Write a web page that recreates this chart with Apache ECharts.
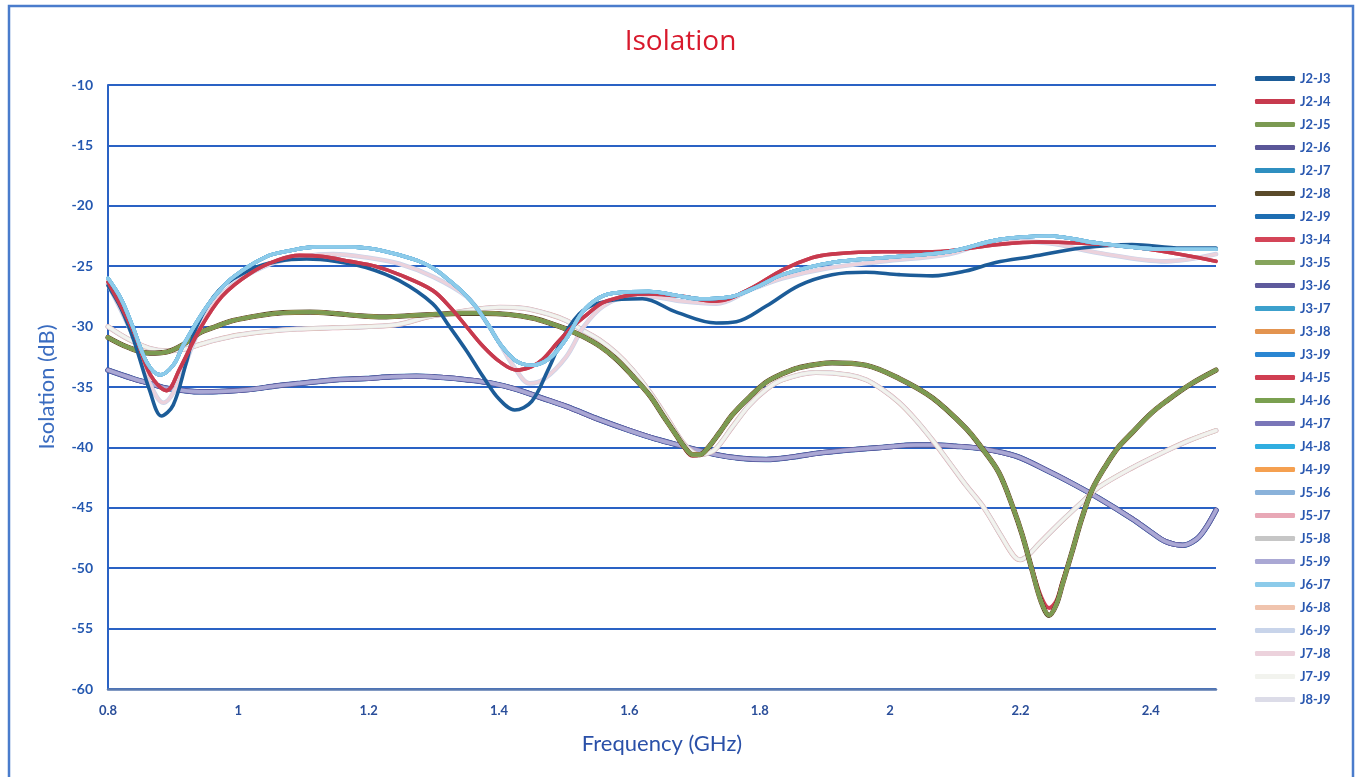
<!DOCTYPE html>
<html>
<head>
<meta charset="utf-8">
<script src="https://cdn.jsdelivr.net/npm/echarts@6/dist/echarts.min.js"></script>
<style>
html,body{margin:0;padding:0;background:#fff;}
#chart{width:1361px;height:777px;}
</style>
</head>
<body>
<div id="chart"></div>
<script>
// ---------- DATA ----------
const legendNames = ['J2-J3','J2-J4','J2-J5','J2-J6','J2-J7','J2-J8','J2-J9','J3-J4','J3-J5','J3-J6','J3-J7','J3-J8','J3-J9','J4-J5','J4-J6','J4-J7','J4-J8','J4-J9','J5-J6','J5-J7','J5-J8','J5-J9','J6-J7','J6-J8','J6-J9','J7-J8','J7-J9','J8-J9'];
const xTicks = [0.8, 1.0, 1.2, 1.4, 1.6, 1.8, 2.0, 2.2, 2.4];
const yTicks = [-10,-15,-20,-25,-30,-35,-40,-45,-50,-55,-60];

// [frequency GHz, isolation dB]
const curveDarkBlue = [[0.8,-26.6],[0.82,-28.5],[0.84,-31.2],[0.864,-35.3],[0.882,-37.4],[0.9,-36.5],[0.92,-33],[0.936,-30],[0.97,-27],[1.018,-25.3],[1.06,-24.6],[1.105,-24.4],[1.15,-24.6],[1.196,-25.1],[1.247,-26.2],[1.298,-28.1],[1.324,-30],[1.35,-32],[1.375,-34.1],[1.4,-36],[1.424,-36.9],[1.45,-36.2],[1.475,-33.6],[1.5,-30.7],[1.528,-28.7],[1.565,-27.9],[1.62,-27.7],[1.672,-28.8],[1.733,-29.7],[1.764,-29.6],[1.81,-28.3],[1.86,-26.6],[1.911,-25.7],[1.963,-25.5],[2.014,-25.7],[2.065,-25.8],[2.116,-25.4],[2.162,-24.7],[2.218,-24.2],[2.294,-23.5],[2.371,-23.2],[2.447,-23.5],[2.5,-23.5]];
const curveRed = [[0.8,-26.3],[0.84,-30.5],[0.865,-34],[0.89,-35.3],[0.91,-33.5],[0.94,-30.3],[0.975,-27.5],[1.018,-25.6],[1.06,-24.5],[1.094,-24.1],[1.13,-24.2],[1.171,-24.6],[1.21,-25],[1.247,-25.7],[1.298,-27],[1.325,-28.4],[1.35,-30],[1.375,-31.6],[1.401,-32.9],[1.427,-33.6],[1.45,-33.3],[1.467,-32.7],[1.49,-31.3],[1.513,-30],[1.535,-29],[1.56,-28],[1.6,-27.4],[1.63,-27.3],[1.68,-27.5],[1.733,-27.9],[1.784,-26.9],[1.835,-25.3],[1.88,-24.3],[1.911,-24],[1.988,-23.8],[2.065,-23.8],[2.167,-23.2],[2.23,-23],[2.294,-23.1],[2.35,-23.3],[2.397,-23.6],[2.474,-24.3],[2.5,-24.6]];
const curveLightBlue = [[0.8,-26],[0.82,-27.7],[0.838,-30],[0.86,-33],[0.88,-34],[0.9,-33.2],[0.915,-31.6],[0.941,-29.2],[0.965,-27.4],[0.992,-25.9],[1.043,-24.2],[1.08,-23.7],[1.12,-23.4],[1.16,-23.4],[1.197,-23.5],[1.235,-23.9],[1.273,-24.5],[1.3,-25.2],[1.324,-26.2],[1.345,-27.2],[1.365,-28.4],[1.385,-30],[1.401,-31.4],[1.425,-32.8],[1.45,-33.2],[1.478,-32.6],[1.503,-31],[1.528,-28.8],[1.554,-27.6],[1.58,-27.2],[1.63,-27.1],[1.68,-27.5],[1.707,-27.7],[1.758,-27.5],[1.8,-26.6],[1.835,-25.7],[1.911,-24.7],[1.988,-24.3],[2.09,-23.8],[2.167,-22.8],[2.244,-22.5],[2.32,-23.1],[2.423,-23.6],[2.5,-23.6]];
const curveLavender = [[0.8,-26.5],[0.84,-31],[0.865,-34.8],[0.885,-36.3],[0.905,-35],[0.93,-31.5],[0.96,-28.2],[1.0,-26.2],[1.05,-24.8],[1.1,-24.2],[1.145,-24],[1.2,-24.3],[1.247,-24.8],[1.3,-25.9],[1.35,-27.5],[1.375,-29.2],[1.401,-31.4],[1.425,-33.5],[1.447,-34.7],[1.47,-34.3],[1.503,-32.5],[1.53,-30],[1.56,-28.3],[1.6,-27.5],[1.63,-27.5],[1.68,-27.9],[1.733,-28.1],[1.784,-27],[1.835,-26],[1.9,-25.2],[1.988,-24.6],[2.09,-24],[2.167,-22.9],[2.244,-23.1],[2.32,-23.9],[2.423,-24.6],[2.5,-24]];
const curveGreen = [[0.8,-30.9],[0.83,-31.7],[0.864,-32.2],[0.89,-32.1],[0.915,-31.5],[0.941,-30.5],[0.965,-30],[0.992,-29.5],[1.03,-29.1],[1.069,-28.85],[1.11,-28.8],[1.145,-28.9],[1.185,-29.1],[1.222,-29.2],[1.26,-29.1],[1.298,-29],[1.34,-28.9],[1.375,-28.9],[1.415,-29],[1.452,-29.3],[1.477,-29.7],[1.503,-30.2],[1.528,-30.8],[1.554,-31.6],[1.58,-32.7],[1.605,-34.1],[1.631,-35.7],[1.652,-37.4],[1.672,-39],[1.685,-40],[1.697,-40.6],[1.708,-40.6],[1.718,-40.2],[1.738,-38.8],[1.758,-37.3],[1.785,-35.8],[1.81,-34.6],[1.835,-33.9],[1.86,-33.4],[1.911,-33],[1.963,-33.2],[2.014,-34.3],[2.065,-35.9],[2.116,-38.4],[2.14,-40],[2.167,-42.1],[2.19,-45.2],[2.203,-47.3],[2.218,-50.2],[2.232,-52.8],[2.244,-53.9],[2.255,-53],[2.264,-51.4],[2.28,-48.5],[2.294,-45.9],[2.31,-43.5],[2.331,-41.5],[2.35,-40],[2.371,-38.8],[2.4,-37.2],[2.423,-36.2],[2.46,-34.8],[2.5,-33.6]];
const curveGreenRed = [[0.8,-30.9],[0.83,-31.7],[0.864,-32.2],[0.89,-32.1],[0.915,-31.5],[0.941,-30.5],[0.965,-30],[0.992,-29.5],[1.03,-29.1],[1.069,-28.85],[1.11,-28.8],[1.145,-28.9],[1.185,-29.1],[1.222,-29.2],[1.26,-29.1],[1.298,-29],[1.34,-28.9],[1.375,-28.9],[1.415,-29],[1.452,-29.3],[1.477,-29.7],[1.503,-30.2],[1.528,-30.8],[1.554,-31.6],[1.58,-32.7],[1.605,-34.1],[1.631,-35.7],[1.652,-37.4],[1.672,-39],[1.685,-40.1],[1.697,-40.7],[1.708,-40.6],[1.718,-40.2],[1.738,-38.8],[1.758,-37.3],[1.785,-35.8],[1.81,-34.6],[1.835,-33.9],[1.86,-33.4],[1.911,-33],[1.963,-33.2],[2.014,-34.3],[2.065,-35.9],[2.116,-38.4],[2.14,-40],[2.167,-42.1],[2.19,-45.2],[2.203,-47.3],[2.218,-50.1],[2.232,-52.4],[2.244,-53.3],[2.255,-52.7],[2.264,-51.2],[2.28,-48.5],[2.294,-45.9],[2.31,-43.5],[2.331,-41.5],[2.35,-40],[2.371,-38.8],[2.4,-37.2],[2.423,-36.2],[2.46,-34.8],[2.5,-33.6]];
const curveWhite = [[0.8,-30],[0.83,-31],[0.864,-31.8],[0.89,-32],[0.915,-31.9],[0.94,-31.5],[0.966,-31.1],[1.0,-30.7],[1.043,-30.4],[1.09,-30.2],[1.145,-30.1],[1.2,-30],[1.247,-29.8],[1.29,-29.2],[1.324,-28.9],[1.36,-28.6],[1.401,-28.4],[1.44,-28.5],[1.478,-29],[1.503,-29.5],[1.528,-30.3],[1.554,-31.1],[1.58,-32.2],[1.605,-33.6],[1.631,-35.4],[1.657,-37.5],[1.682,-39.6],[1.695,-40.3],[1.707,-40.6],[1.72,-40.5],[1.733,-40.1],[1.758,-38.3],[1.784,-36.5],[1.81,-35.2],[1.835,-34.4],[1.886,-33.8],[1.937,-34],[1.963,-34.4],[1.988,-35.2],[2.014,-36.3],[2.039,-37.7],[2.065,-39.4],[2.09,-41.2],[2.116,-43.1],[2.144,-45],[2.17,-47.3],[2.19,-49],[2.2,-49.3],[2.212,-48.9],[2.228,-48],[2.25,-46.8],[2.269,-45.8],[2.295,-44.5],[2.32,-43.3],[2.371,-41.7],[2.423,-40.3],[2.46,-39.4],[2.5,-38.6]];
const curvePurple = [[0.8,-33.6],[0.838,-34.3],[0.87,-34.8],[0.89,-35.1],[0.941,-35.4],[0.98,-35.35],[1.018,-35.2],[1.06,-34.9],[1.094,-34.7],[1.15,-34.4],[1.196,-34.3],[1.235,-34.15],[1.273,-34.1],[1.31,-34.2],[1.35,-34.4],[1.39,-34.7],[1.427,-35.2],[1.465,-35.9],[1.503,-36.6],[1.554,-37.7],[1.6,-38.6],[1.64,-39.3],[1.682,-39.9],[1.733,-40.6],[1.77,-40.9],[1.81,-41],[1.85,-40.8],[1.886,-40.5],[1.94,-40.2],[1.988,-40],[2.04,-39.8],[2.065,-39.8],[2.1,-39.9],[2.14,-40.1],[2.192,-40.7],[2.244,-42],[2.28,-43],[2.32,-44.2],[2.371,-45.9],[2.4,-47],[2.423,-47.8],[2.449,-48.1],[2.47,-47.6],[2.484,-46.7],[2.5,-45.2]];

// which measured curve each pair follows
const pairCurve = {
  'J2-J3': curveDarkBlue, 'J2-J4': curveRed, 'J2-J5': curveGreen, 'J2-J6': curvePurple,
  'J2-J7': curveLightBlue, 'J2-J8': curveGreen, 'J2-J9': curvePurple, 'J3-J4': curveRed,
  'J3-J5': curveGreen, 'J3-J6': curvePurple, 'J3-J7': curveLightBlue, 'J3-J8': curveGreen,
  'J3-J9': curvePurple, 'J4-J5': curveGreenRed, 'J4-J6': curveGreen, 'J4-J7': curvePurple,
  'J4-J8': curveLightBlue, 'J4-J9': curveGreen, 'J5-J6': curveLightBlue, 'J5-J7': curveWhite,
  'J5-J8': curveWhite, 'J5-J9': curvePurple, 'J6-J7': curveLightBlue, 'J6-J8': curveWhite,
  'J6-J9': curveLavender, 'J7-J8': curveLavender, 'J7-J9': curveWhite, 'J8-J9': curveWhite
};

// ---------- STYLE ----------
const style = {
  'J2-J3': {c:'#1c5c98', w:3.6}, 'J2-J4': {c:'#c73a4e', w:3.6}, 'J2-J5': {c:'#7b9a52', w:3.6},
  'J2-J6': {c:'#5a5698', w:5},   'J2-J7': {c:'#2f8fc0', w:3.6}, 'J2-J8': {c:'#5a4a2a', w:5.2},
  'J2-J9': {c:'#1e6eb2', w:5.4}, 'J3-J4': {c:'#d44558', w:3.6}, 'J3-J5': {c:'#86a45c', w:3.6},
  'J3-J6': {c:'#5e5a9c', w:5},   'J3-J7': {c:'#3ca0cc', w:3.6}, 'J3-J8': {c:'#e39450', w:3.6},
  'J3-J9': {c:'#2a86d2', w:3.6}, 'J4-J5': {c:'#d03e52', w:4},   'J4-J6': {c:'#7aa050', w:3.4},
  'J4-J7': {c:'#7a76b8', w:4},   'J4-J8': {c:'#30aee0', w:3.6}, 'J4-J9': {c:'#f5a050', w:3.6},
  'J5-J6': {c:'#8ab2da', w:3.6}, 'J5-J7': {c:'#e8a8b6', w:5},   'J5-J8': {c:'#c6c6c6', w:4.6},
  'J5-J9': {c:'#aaa8d4', w:3.6}, 'J6-J7': {c:'#8ccbea', w:3.6}, 'J6-J8': {c:'#f0c4ae', w:4},
  'J6-J9': {c:'#c8d4ea', w:4.6}, 'J7-J8': {c:'#ecd2dc', w:3.2}, 'J7-J9': {c:'#f2f3ee', w:3},
  'J8-J9': {c:'#dcdce8', w:3.8}
};
// drawing order (bottom -> top)
const drawOrder = ['J2-J9','J3-J9','J2-J6','J3-J6','J4-J7','J5-J9',
  'J5-J7','J5-J8','J6-J8','J8-J9','J7-J9',
  'J6-J9','J7-J8',
  'J4-J5','J2-J8','J3-J8','J4-J9','J3-J5','J4-J6','J2-J5',
  'J2-J3','J3-J4','J2-J4',
  'J2-J7','J3-J7','J4-J8','J5-J6','J6-J7'];

const series = drawOrder.map(name => ({
  name: name,
  type: 'line',
  data: pairCurve[name],
  smooth: 0.35,
  showSymbol: false,
  symbol: 'none',
  color: style[name].c,
  lineStyle: {color: style[name].c, width: style[name].w, cap: 'round', join: 'round'},
  emphasis: {disabled: true},
  silent: true
}));

const chart = echarts.init(document.getElementById('chart'), null, {renderer: 'canvas'});
chart.setOption({
  animation: false,
  backgroundColor: '#ffffff',
  graphic: [{
    type: 'rect', silent: true, z: -1,
    shape: {x: 9, y: 6, width: 1344, height: 800},
    style: {fill: 'none', stroke: '#4a7ccc', lineWidth: 2.5}
  }],
  title: {
    text: 'Isolation', left: 'center', top: 23,
    textStyle: {color: '#d8192c', fontSize: 28, fontWeight: 'normal', fontFamily: 'Open Sans'}
  },
  grid: {left: 108, right: 145, top: 85, bottom: 88, containLabel: false},
  legend: {
    data: legendNames,
    orient: 'vertical', left: 1255, top: 71, padding: 0,
    icon: 'roundRect', itemWidth: 40, itemHeight: 5, itemGap: 8,
    selectedMode: false,
    textStyle: {color: '#2a58b0', fontSize: 13, fontWeight: 'bold', fontFamily: 'Lato', lineHeight: 15}
  },
  xAxis: {
    type: 'value', min: 0.8, max: 2.5, interval: 0.2,
    name: 'Frequency (GHz)', nameLocation: 'middle', nameGap: 44,
    nameTextStyle: {color: '#2a50a8', fontSize: 22, fontFamily: 'Lato'},
    axisLine: {show: true, onZero: false, lineStyle: {color: '#5a7ab0', width: 2.5}},
    axisTick: {show: false},
    splitLine: {show: false},
    axisLabel: {
      showMaxLabel: false, margin: 15, color: '#2a4e9a', fontSize: 13, fontWeight: 'bold', fontFamily: 'Lato',
      formatter: v => { const t = xTicks.find(x => Math.abs(x - v) < 1e-6); return t === undefined ? '' : String(t); }
    }
  },
  yAxis: {
    type: 'value', min: -60, max: -10, interval: 5,
    name: 'Isolation (dB)', nameLocation: 'middle', nameGap: 50,
    nameTextStyle: {color: '#3a6cc0', fontSize: 22, fontFamily: 'Lato'},
    axisLine: {show: true, lineStyle: {color: '#2a62c4', width: 2}},
    axisTick: {show: false},
    splitLine: {show: true, lineStyle: {color: '#2a62c4', width: 2}},
    axisLabel: {
      margin: 15, color: '#2458b0', fontSize: 14, fontWeight: 'bold', fontFamily: 'Lato',
      formatter: v => { const t = yTicks.find(y => Math.abs(y - v) < 1e-6); return t === undefined ? '' : String(t); }
    }
  },
  series: series
});
</script>
</body>
</html>
